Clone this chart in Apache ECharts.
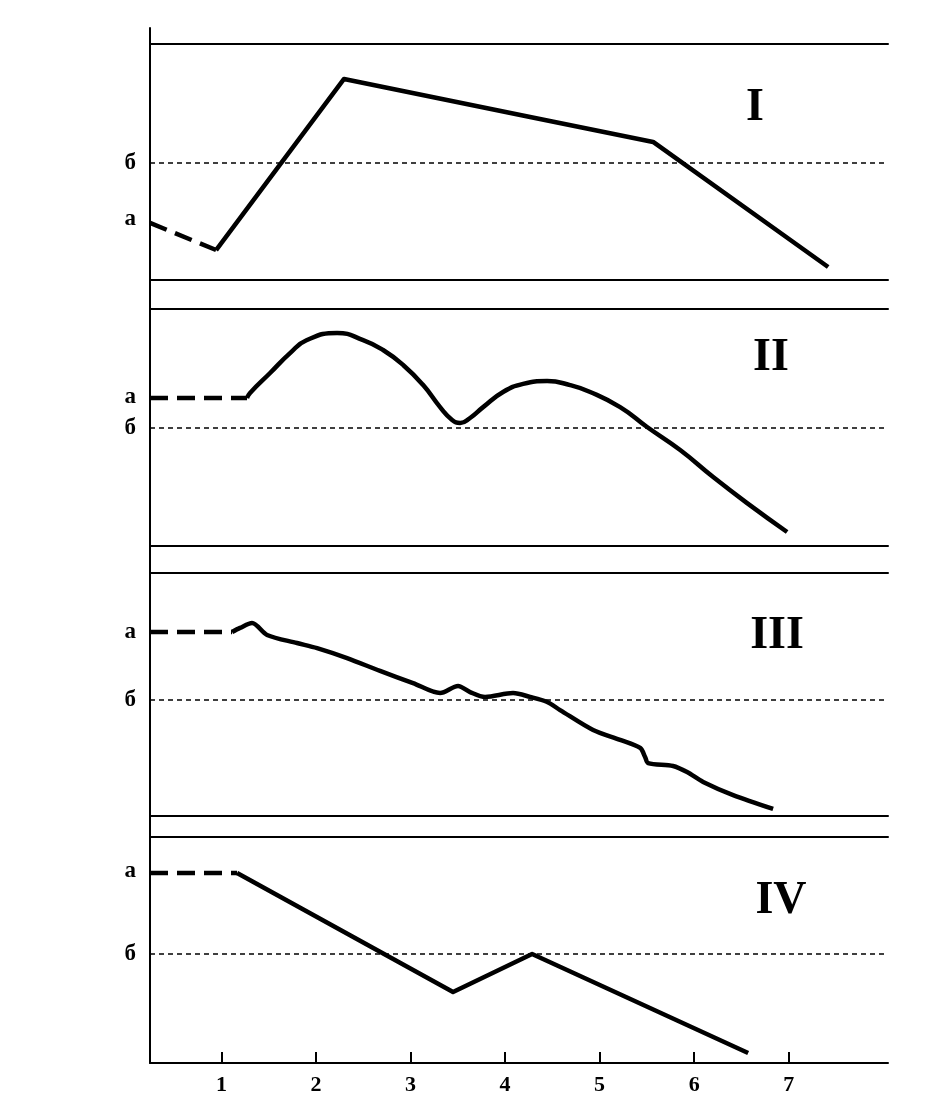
<!DOCTYPE html>
<html>
<head>
<meta charset="utf-8">
<script src="https://cdn.jsdelivr.net/npm/echarts@6/dist/echarts.min.js"></script>
<style>
html,body{margin:0;padding:0;background:#fff;}
#chart{width:937px;height:1117px;}
</style>
</head>
<body>
<div id="chart"></div>
<script>
// ---- data (x in axis units, y in % of panel height) ----
const xMin = 0.245, xMax = 8.05;
const xTicks = [1, 2, 3, 4, 5, 6, 7];
const panelNames = ['I', 'II', 'III', 'IV'];
const levelA = [26, 63, 75.7, 85];      // level of label "а"
const levelB = [49.6, 49.8, 47.7, 48.2]; // level of dotted line "б"

const p1Dash = [[0.245, 24.2], [0.944, 12.7]];
const p1Line = [[0.944, 12.7], [2.297, 85.2], [4.265, 69.1], [5.566, 58.5], [7.417, 5.5]];

const p2Dash = [[0.245, 62.4], [1.271, 62.4]];
const p2Line = [[1.271, 62.4], [1.303, 64.6], [1.515, 73.0], [1.726, 81.4], [1.900, 86.8],
  [2.224, 89.9], [2.499, 86.9], [2.710, 82.7], [2.922, 76.4], [3.134, 67.9], [3.313, 58.6],
  [3.440, 53.2], [3.525, 51.9], [3.630, 54.0], [3.768, 58.6], [3.979, 65.0], [4.191, 68.4],
  [4.445, 69.6], [4.688, 67.9], [4.900, 65.0], [5.217, 58.6], [5.502, 50.2], [5.852, 40.5],
  [6.201, 29.1], [6.560, 18.1], [6.983, 5.9]];

const p3Dash = [[0.245, 75.7], [1.113, 75.7]];
const p3Line = [[1.113, 75.7], [1.197, 77.4], [1.324, 79.4], [1.483, 74.5], [1.800, 71.2], [2.012, 69.1],
  [2.329, 65.0], [2.678, 59.7], [3.027, 54.7], [3.313, 50.6], [3.503, 53.5], [3.630, 51.0],
  [3.789, 49.0], [4.085, 50.6], [4.265, 49.0], [4.445, 46.9], [4.582, 43.6], [4.931, 35.4],
  [5.217, 31.3], [5.429, 28.0], [5.481, 24.3], [5.513, 21.8], [5.777, 20.6], [5.925, 18.1],
  [6.095, 14.0], [6.412, 8.6], [6.835, 2.9]];

const p4Dash = [[0.245, 84.1], [1.166, 84.1]];
const p4Line = [[1.166, 84.1], [3.450, 31.4], [4.286, 48.2], [6.571, 4.4]];

const dashes = [p1Dash, p2Dash, p3Dash, p4Dash];
const lines = [p1Line, p2Line, p3Line, p4Line];
const smoothing = [false, 0.5, 0.3, false];

// ---- layout ----
const panels = [
  { top: 44, height: 236 },
  { top: 309, height: 237 },
  { top: 573, height: 243 },
  { top: 837, height: 226 }
];
const numeralPos = [[755, 108], [771, 358], [777, 636], [781, 901]];
const serif = '"Liberation Serif", "DejaVu Serif", serif';

const grid = [], xAxis = [], yAxis = [], series = [], graphic = [];
panels.forEach((p, i) => {
  grid.push({ left: 150, right: 49, top: p.top, height: p.height });
  const isLast = i === panels.length - 1;
  xAxis.push({
    type: 'value', gridIndex: i, position: 'bottom', min: xMin, max: xMax,
    axisLine: { show: true, onZero: false, lineStyle: { color: '#000', width: 2 } },
    axisTick: isLast ? { show: true, inside: true, length: 11, customValues: xTicks, lineStyle: { color: '#000', width: 2 } } : { show: false },
    axisLabel: isLast ? { show: true, customValues: xTicks, margin: 11, color: '#000', fontFamily: serif, fontWeight: 'bold', fontSize: 22, formatter: v => String(v) } : { show: false },
    splitLine: { show: false }
  });
  xAxis.push({
    type: 'value', gridIndex: i, position: 'top', min: xMin, max: xMax,
    axisLine: { show: true, onZero: false, lineStyle: { color: '#000', width: 2 } },
    axisTick: { show: false }, axisLabel: { show: false }, splitLine: { show: false }
  });
  const a = levelA[i], b = levelB[i];
  yAxis.push({
    type: 'value', gridIndex: i, min: 0, max: 100,
    axisLine: { show: false }, axisTick: { show: false }, splitLine: { show: false },
    axisLabel: {
      show: true, customValues: [a, b], margin: 14, color: '#000',
      fontFamily: serif, fontWeight: 'bold', fontSize: 23,
      formatter: v => (v === a ? 'а' : 'б')
    }
  });
  series.push({
    type: 'line', xAxisIndex: 2 * i, yAxisIndex: i, data: dashes[i],
    symbol: 'none', silent: true, animation: false,
    lineStyle: { color: '#000', width: 4.5, type: [18, 9] }
  });
  series.push({
    type: 'line', xAxisIndex: 2 * i, yAxisIndex: i, data: lines[i],
    symbol: 'none', silent: true, animation: false, smooth: smoothing[i],
    lineStyle: { color: '#000', width: 4.5, join: 'round', cap: 'butt' },
    markLine: {
      silent: true, animation: false, symbol: ['none', 'none'], label: { show: false },
      lineStyle: { color: '#000', width: 1.5, type: [5, 4] },
      data: [{ yAxis: b }]
    }
  });
  graphic.push({
    type: 'text', x: numeralPos[i][0], y: numeralPos[i][1],
    style: { text: panelNames[i], fill: '#000', font: 'bold 46px ' + serif, align: 'center', verticalAlign: 'middle' }
  });
});

// continuous left vertical line
grid.push({ left: 150, right: 49, top: 28, height: 1035 });
xAxis.push({ type: 'value', gridIndex: 4, show: false, min: 0, max: 1 });
yAxis.push({
  type: 'value', gridIndex: 4, min: 0, max: 1,
  axisLine: { show: true, lineStyle: { color: '#000', width: 2 } },
  axisTick: { show: false }, axisLabel: { show: false }, splitLine: { show: false }
});

const chart = echarts.init(document.getElementById('chart'), null, { renderer: 'canvas' });
chart.setOption({
  backgroundColor: '#fff',
  animation: false,
  grid, xAxis, yAxis, series, graphic
});
</script>
</body>
</html>
